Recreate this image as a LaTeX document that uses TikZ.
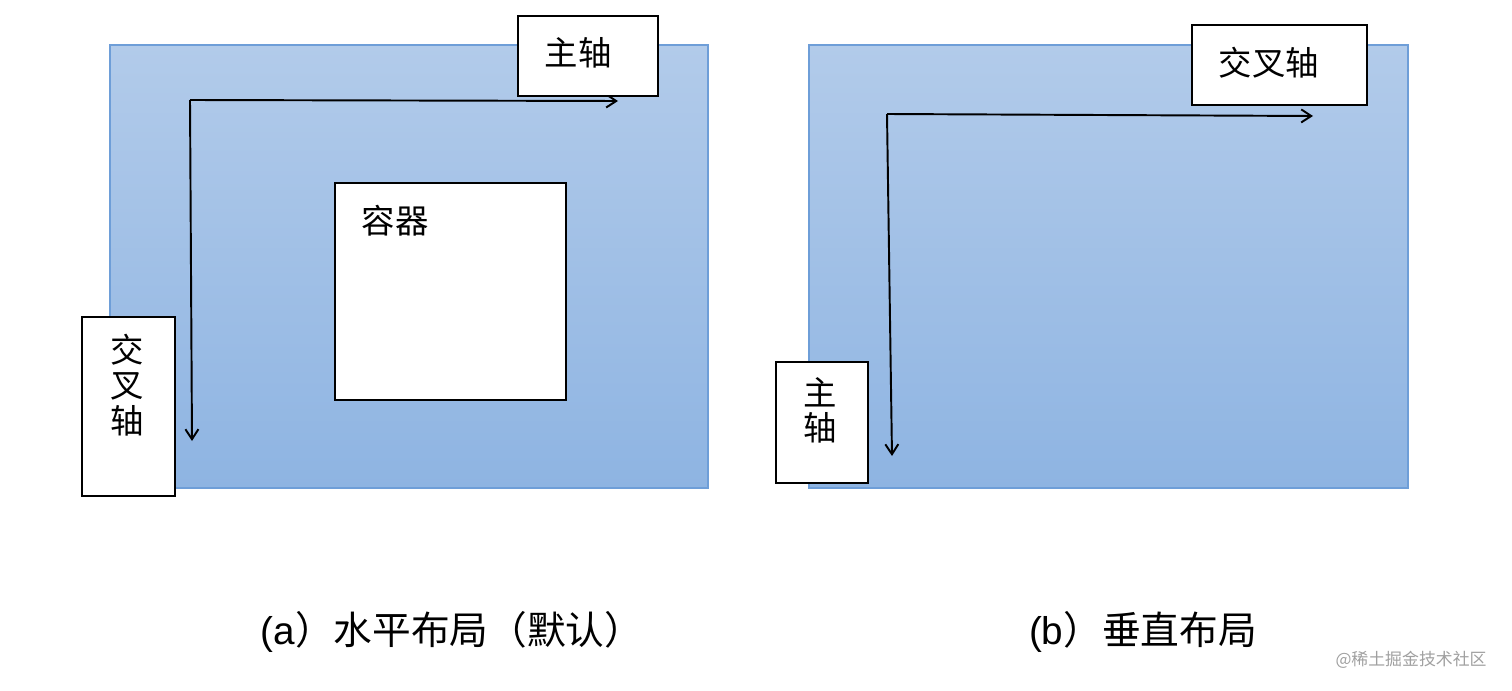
\documentclass[tikz,border=0pt]{standalone}
\usepackage{fontspec}
\setmainfont{Liberation Sans}
\newfontfamily\cjk{Noto Sans CJK SC}
\usetikzlibrary{arrows.meta,positioning}
\definecolor{paneltop}{RGB}{178,203,234}
\definecolor{panelbot}{RGB}{142,180,226}
\definecolor{paneledge}{RGB}{110,158,216}
\definecolor{markgray}{RGB}{160,160,160}

\begin{document}
\begin{tikzpicture}[
  x=0.01cm, y=-0.01cm,
  panel/.style={draw=paneledge, line width=0.5pt, top color=paneltop, bottom color=panelbot, inner sep=0pt},
  box/.style={draw, fill=white, line width=0.6pt, inner sep=0pt},
  lbl/.style={font=\cjk\fontsize{9.5}{10}\selectfont, align=center},
  axis/.style={line width=0.55pt, -{Straight Barb[length=1mm, width=1.3mm]}},
  captext/.style={font=\fontsize{11}{11}\selectfont}
]
\useasboundingbox (0,0) rectangle (1512,691);
% (a) horizontal layout
\node[panel, minimum width=5.98cm, minimum height=4.43cm] (pa) at (409,266.5) {};
\coordinate (oa) at (190,100);
\coordinate (ha) at (618,101);
\coordinate (va) at (192,441);
\draw[axis] (oa) -- (ha);
\draw[axis] (oa) -- (va);
\node[box, minimum width=1.40cm, minimum height=0.80cm] (maina) at (588,56) {};
\node[lbl] (mainat) at (578,53) {主轴};
\node[box, minimum width=2.31cm, minimum height=2.17cm] (cont) at (450.5,291.5) {};
\node[lbl] (contt) at (395,221) {容器};
\node[box, minimum width=0.93cm, minimum height=1.79cm] (crossa) at (128.5,406.5) {};
\node[lbl] (crossat) at (127,385) {交\\叉\\轴};
% (b) vertical layout
\node[panel, minimum width=5.99cm, minimum height=4.43cm] (pb) at (1108.5,266.5) {};
\coordinate (ob) at (887,114);
\coordinate (hb) at (1313,116);
\coordinate (vb) at (892,456);
\draw[axis] (ob) -- (hb);
\draw[axis] (ob) -- (vb);
\node[box, minimum width=1.75cm, minimum height=0.80cm] (crossb) at (1279.5,65) {};
\node[lbl] (crossbt) at (1269,63) {交叉轴};
\node[box, minimum width=0.92cm, minimum height=1.21cm] (mainb) at (822,422.5) {};
\node[lbl] (mainbt) at (820,410) {主\\轴};
% captions
\node[captext] (capa) at (452,632) {(a{\cjk）水平布局（默认）}};
\node[captext] (capb) at (1143,632) {(b{\cjk）垂直布局}};
\node[font=\cjk\fontsize{4.8}{5}\selectfont, text=markgray] (mark) at (1411,660) {@稀土掘金技术社区};
\end{tikzpicture}
\end{document}
